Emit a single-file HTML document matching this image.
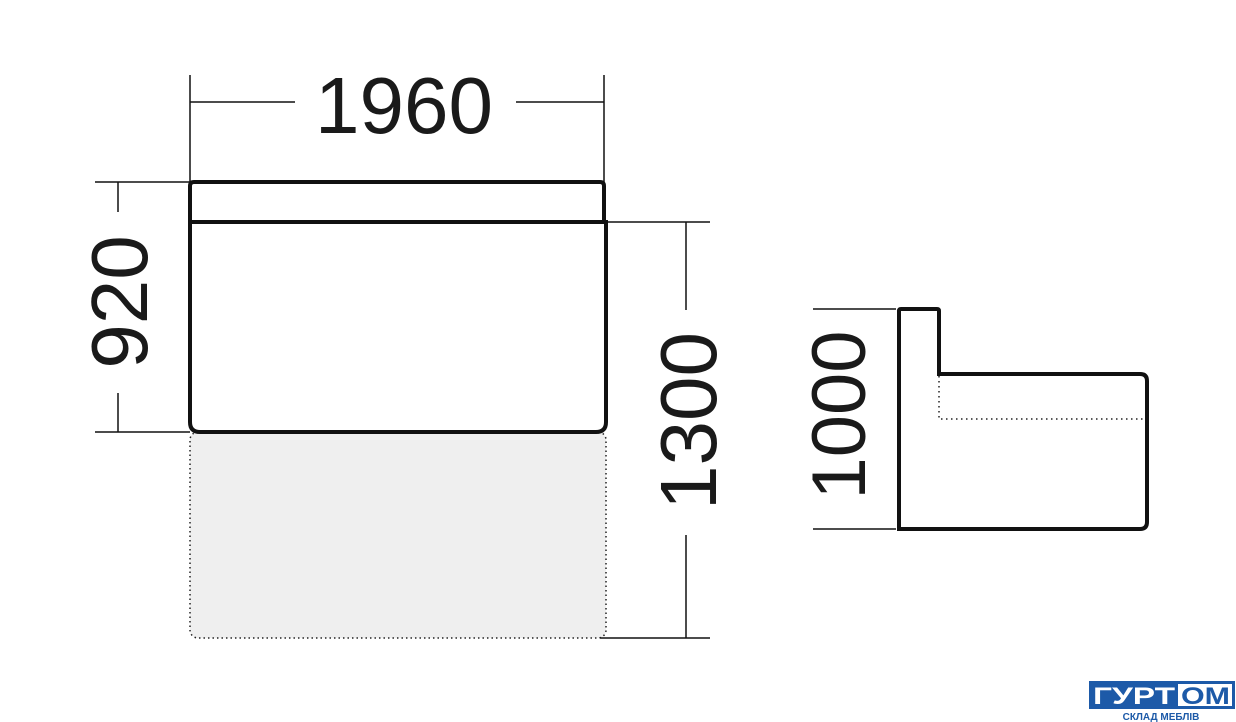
<!DOCTYPE html>
<html><head><meta charset="utf-8"><style>
body{margin:0;background:#fff;width:1236px;height:722px;overflow:hidden;position:relative}
svg{position:absolute;left:0;top:0}
</style></head><body>
<svg width="1236" height="722" viewBox="0 0 1236 722" font-family="Liberation Sans, sans-serif">
<rect x="190" y="432" width="416" height="206" rx="8" fill="#efefef" stroke="#222" stroke-width="1.5" stroke-dasharray="1.5 3"/>
<g stroke="#111" stroke-width="1.5" fill="none">
<line x1="190" y1="75" x2="190" y2="182"/><line x1="604" y1="75" x2="604" y2="182"/>
<line x1="190" y1="102" x2="295" y2="102"/><line x1="516" y1="102" x2="604" y2="102"/>
<line x1="95" y1="182" x2="190" y2="182"/><line x1="95" y1="432" x2="190" y2="432"/>
<line x1="118" y1="182" x2="118" y2="212"/><line x1="118" y1="393" x2="118" y2="432"/>
<line x1="606" y1="222" x2="710" y2="222"/><line x1="600" y1="638" x2="710" y2="638"/>
<line x1="686" y1="222" x2="686" y2="310"/><line x1="686" y1="535" x2="686" y2="638"/>
<line x1="813" y1="309" x2="896" y2="309"/><line x1="813" y1="529" x2="896" y2="529"/>
</g>
<g stroke="#111" stroke-width="4" fill="#fff">
<path d="M190 222 H606 V422 Q606 432 596 432 H200 Q190 432 190 422 Z"/>
<path d="M190 186 Q190 182 194 182 H600 Q604 182 604 186 V222 H190 Z"/>
<path d="M899 529 V311 Q899 309 901 309 H937 Q939 309 939 311 V374 H1140 Q1147 374 1147 381 V522 Q1147 529 1140 529 Z"/>
</g>
<path d="M939 376 V419 H1145" stroke="#222" stroke-width="1.5" fill="none" stroke-dasharray="1.5 3.5"/>
<g font-size="80" fill="#1a1a1a" text-anchor="middle">
<text x="404" y="133">1960</text>
<text transform="translate(147,302) rotate(-90)">920</text>
<text transform="translate(716,421) rotate(-90)">1300</text>
<text transform="translate(865,415) rotate(-90)" font-size="76">1000</text>
</g>
<rect x="1089" y="681" width="146" height="28" fill="#1d5aa8"/>
<rect x="1178" y="684" width="54" height="22" fill="#fff"/>
<text x="1093" y="704" font-size="24" font-weight="bold" fill="#fff" textLength="82" lengthAdjust="spacingAndGlyphs">ГУРТ</text>
<text x="1181" y="704" font-size="24" font-weight="bold" fill="#1d5aa8" textLength="49" lengthAdjust="spacingAndGlyphs">ОМ</text>
<text x="1161" y="720" font-size="10" font-weight="bold" fill="#1d5aa8" text-anchor="middle">СКЛАД МЕБЛІВ</text>
</svg>
</body></html>
